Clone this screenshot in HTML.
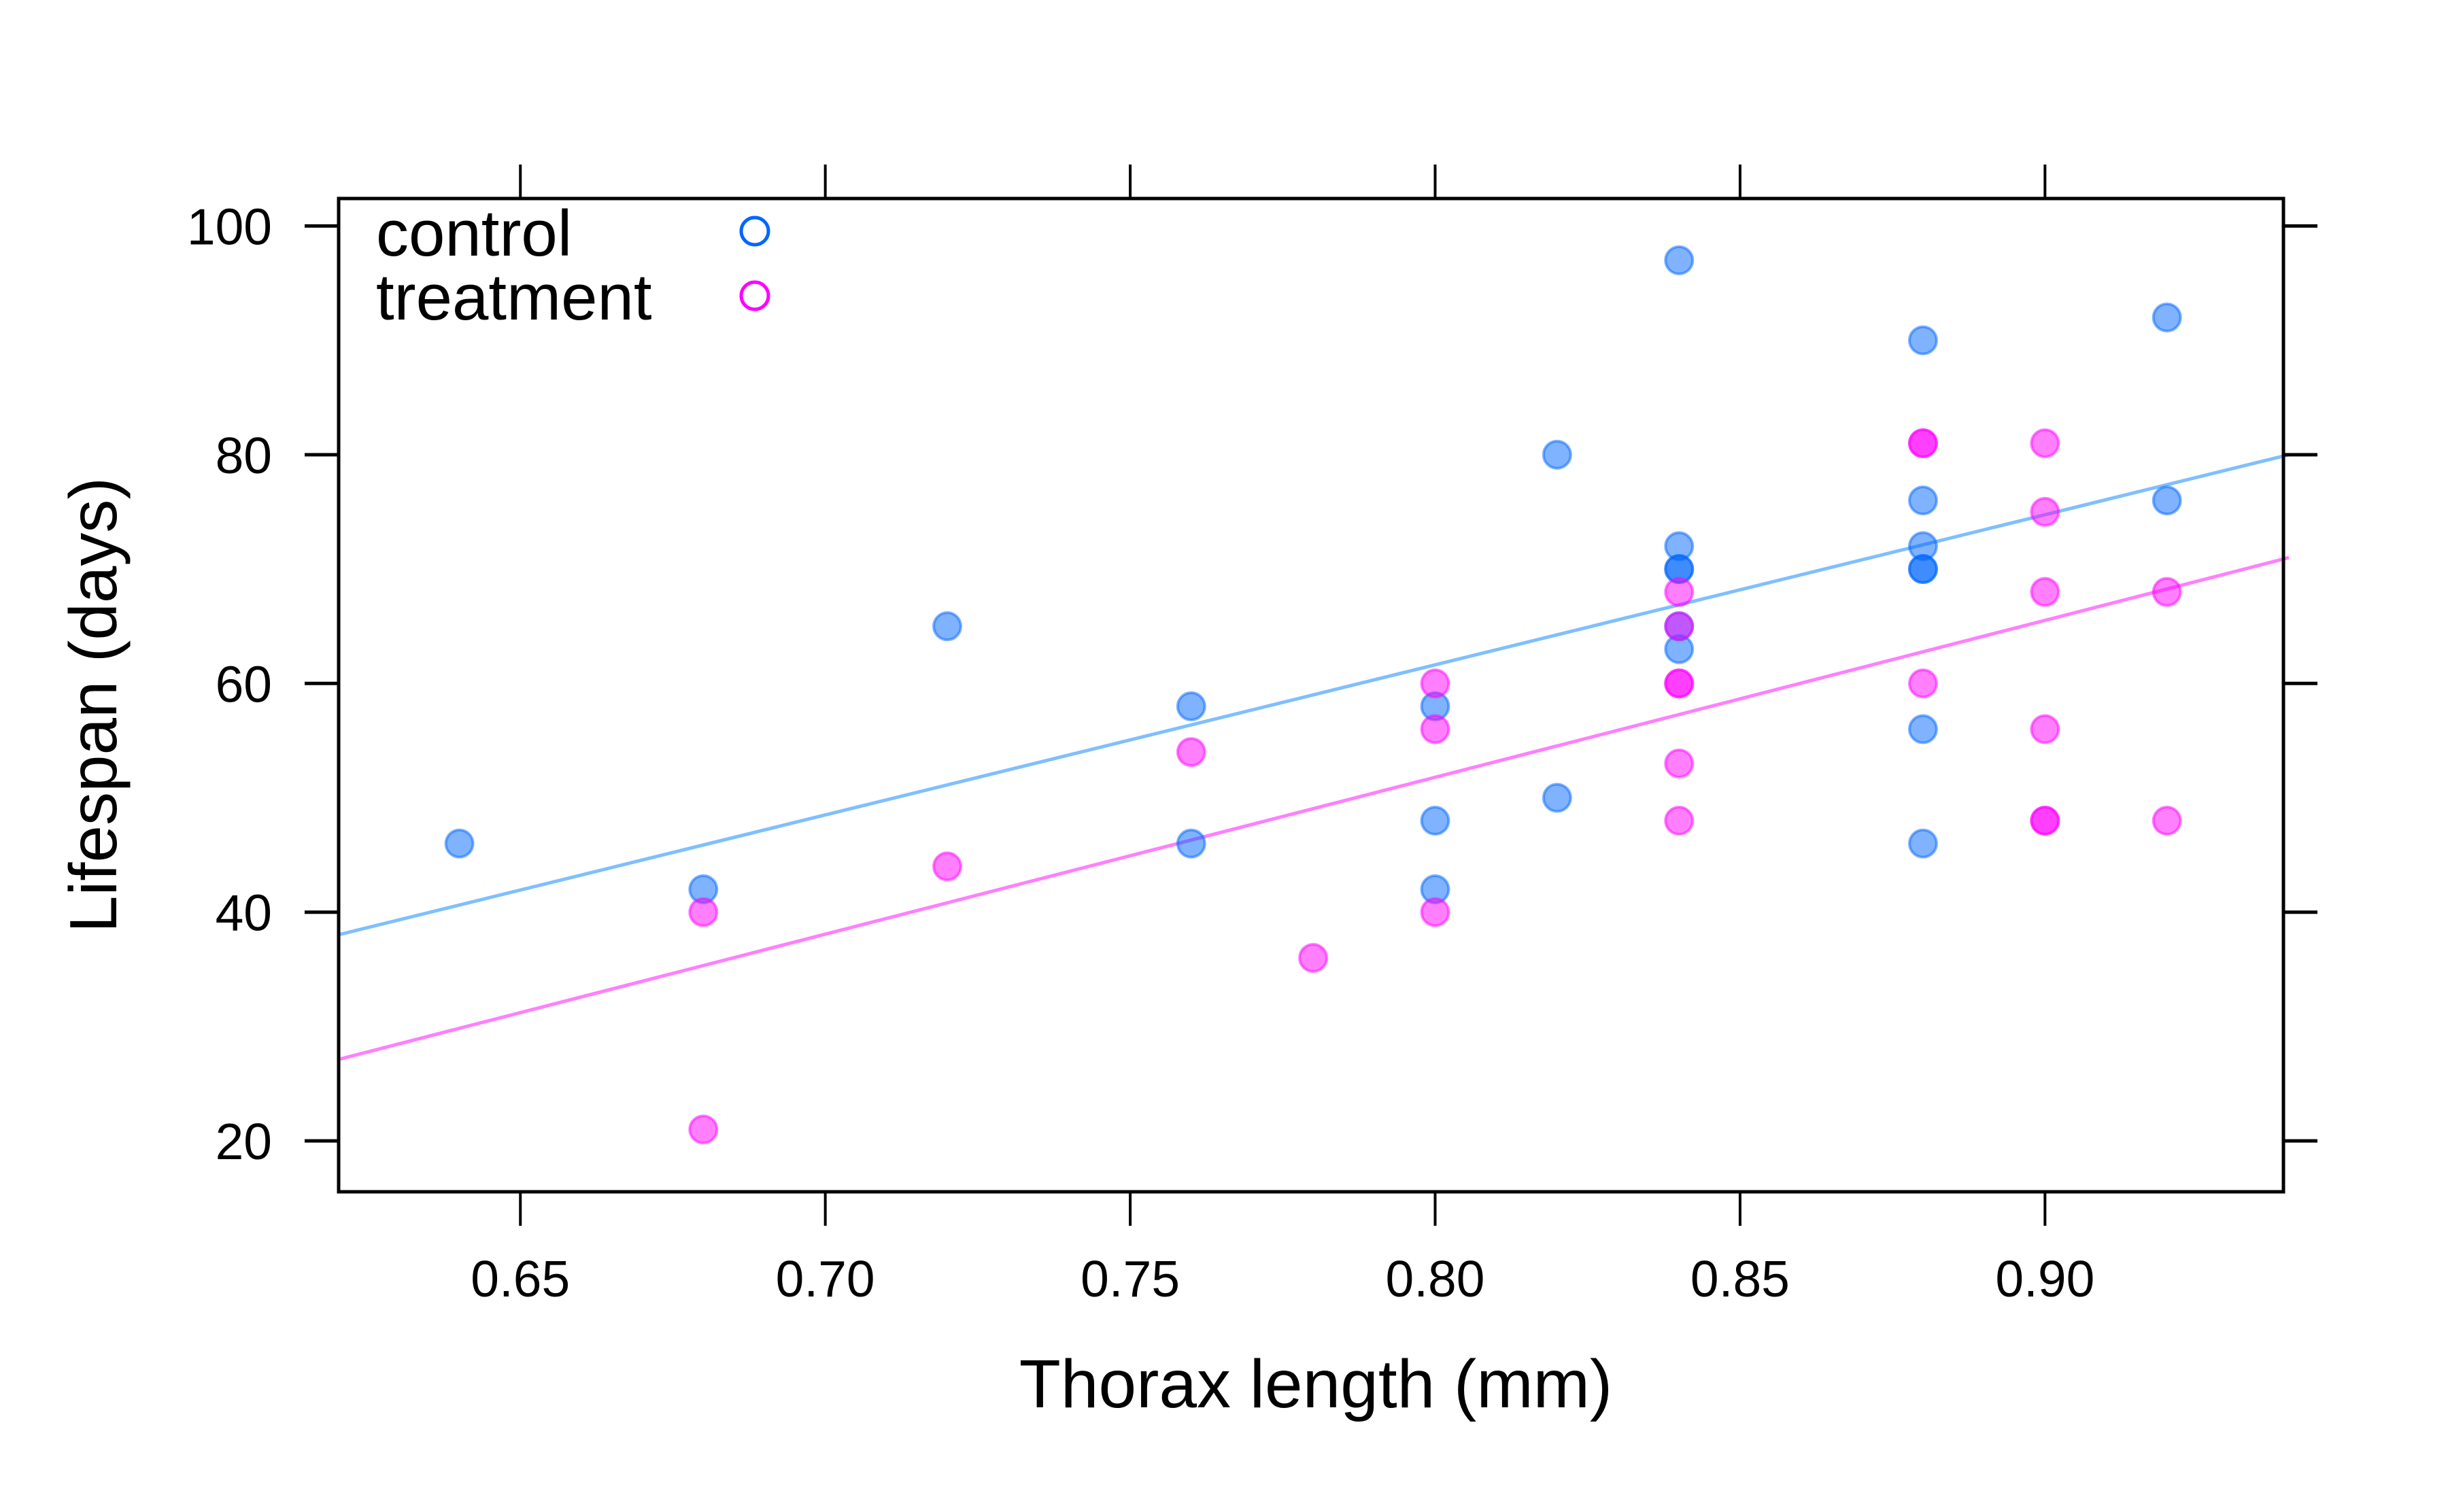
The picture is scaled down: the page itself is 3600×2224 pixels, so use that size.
<!DOCTYPE html>
<html><head><meta charset="utf-8"><style>
html,body{margin:0;padding:0;background:#fff}
svg{display:block}
text{font-family:"Liberation Sans",Arial,sans-serif;fill:#000}
</style></head><body>
<svg id="chart" width="3600" height="2224" viewBox="0 0 3600 2224">
<rect x="0" y="0" width="3600" height="2224" fill="#fff"/>
<g id="lines"></g>
<g id="points"></g>
<rect x="498" y="292" width="2860" height="1461" fill="none" stroke="#000" stroke-width="5"/>
<g id="axes"></g>
<text x="145" y="1037" font-size="98" text-anchor="middle" transform="rotate(-90 145 1037)" dominant-baseline="middle">Lifespan (days)</text>
<text x="1935" y="2070" font-size="100" text-anchor="middle">Thorax length (mm)</text>
<g>
<text x="553" y="376" font-size="96">control</text>
<circle cx="1110" cy="340" r="20" fill="none" stroke="#0066ff" stroke-width="5"/>
<text x="553" y="470" font-size="96">treatment</text>
<circle cx="1110" cy="435" r="20" fill="none" stroke="#ff00ff" stroke-width="5"/>
</g>
</svg>
<script>
const xTicks = [0.65, 0.70, 0.75, 0.80, 0.85, 0.90];
const xTickLabels = ["0.65","0.70","0.75","0.80","0.85","0.90"];
const yTicks = [20, 40, 60, 80, 100];
const yTickLabels = ["20","40","60","80","100"];
const controlX = [0.64,0.68,0.72,0.76,0.76,0.80,0.80,0.80,0.82,0.82,0.84,0.84,0.84,0.84,0.84,0.84,0.88,0.88,0.88,0.88,0.88,0.88,0.88,0.92,0.92];
const controlY = [46,42,65,58,46,58,48,42,80,50,97,72,70,70,65,63,90,76,72,70,70,56,46,92,76];
const treatmentX = [0.68,0.68,0.72,0.76,0.78,0.80,0.80,0.80,0.84,0.84,0.84,0.84,0.84,0.84,0.88,0.88,0.88,0.90,0.90,0.90,0.90,0.90,0.90,0.92,0.92];
const treatmentY = [40,21,44,54,36,60,56,40,68,65,60,60,53,48,81,81,60,81,75,68,56,48,48,68,48];
const lineX = [0.62, 0.94];
const controlLineY = [38.0, 80.0];
const treatmentLineY = [27.1, 71.0];

const NS = "http://www.w3.org/2000/svg";
const X0 = 498, X1 = 3358, Y0 = 1753, Y1 = 292;
const xMin = 0.6202, xMax = 0.9391, yMin = 15.55, yMax = 102.4;
function sx(v){ return X0 + (v - xMin) / (xMax - xMin) * (X1 - X0); }
function sy(v){ return Y0 - (v - yMin) / (yMax - yMin) * (Y0 - Y1); }
function mk(tag, attrs, parent){ const e = document.createElementNS(NS, tag); for (const k in attrs) e.setAttribute(k, attrs[k]); parent.appendChild(e); return e; }

const axes = document.getElementById('axes');
xTicks.forEach((t, i) => {
  const x = sx(t);
  const b = mk('line', {x1:x, y1:Y0, x2:x, y2:Y0+50, stroke:'#000', 'stroke-width':4}, axes);
  
  
  const tp = mk('line', {x1:x, y1:Y1, x2:x, y2:Y1-50, stroke:'#000', 'stroke-width':4}, axes);
  
  
  const lb = mk('text', {x:x, y:1907, 'font-size':75, 'text-anchor':'middle'}, axes);
  lb.textContent = xTickLabels[i];
  
  
});
yTicks.forEach((t, i) => {
  const y = sy(t);
  const l = mk('line', {x1:X0, y1:y, x2:X0-50, y2:y, stroke:'#000', 'stroke-width':5}, axes);
  
  
  const r = mk('line', {x1:X1, y1:y, x2:X1+50, y2:y, stroke:'#000', 'stroke-width':5}, axes);
  
  
  const lb = mk('text', {x:400, y:y+27, 'font-size':75, 'text-anchor':'end'}, axes);
  lb.textContent = yTickLabels[i];
  
  
});

const lines = document.getElementById('lines');
const cl = mk('line', {x1:sx(lineX[0]), y1:sy(controlLineY[0]), x2:sx(lineX[1]), y2:sy(controlLineY[1]), stroke:'#0080ff', 'stroke-opacity':0.5, 'stroke-width':5}, lines);


const tl = mk('line', {x1:sx(lineX[0]), y1:sy(treatmentLineY[0]), x2:sx(lineX[1]), y2:sy(treatmentLineY[1]), stroke:'#ff00ff', 'stroke-opacity':0.5, 'stroke-width':5}, lines);



const pts = document.getElementById('points');
controlX.forEach((x, i) => {
  const c = mk('circle', {cx:sx(x), cy:sy(controlY[i]), r:20, fill:'#0066ff', 'fill-opacity':0.5, stroke:'#0066ff', 'stroke-opacity':0.5, 'stroke-width':4}, pts);
  
  
});
treatmentX.forEach((x, i) => {
  const c = mk('circle', {cx:sx(x), cy:sy(treatmentY[i]), r:20, fill:'#ff00ff', 'fill-opacity':0.5, stroke:'#ff00ff', 'stroke-opacity':0.5, 'stroke-width':4}, pts);
  
  
});
</script>
</body></html>
